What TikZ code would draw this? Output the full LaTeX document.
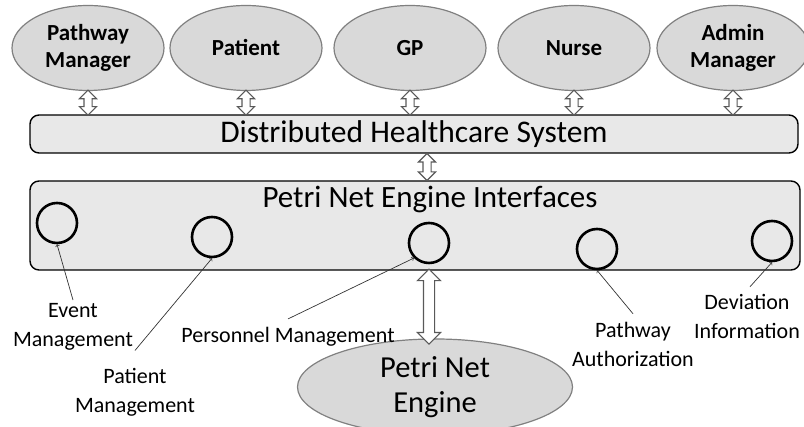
\documentclass[tikz,border=0pt]{standalone}
\usepackage{fontspec}
\setmainfont{Carlito}
\usetikzlibrary{positioning}
\usetikzlibrary{shapes.geometric}
\usetikzlibrary{shapes.arrows}

\tikzset{
  actor/.style={ellipse, draw=gray, fill=gray!30, line width=1.2pt,
    minimum width=152pt, minimum height=85pt, inner sep=0pt, align=center,
    font=\fontsize{23}{27}\selectfont\bfseries},
  layer/.style={draw, line width=1.4pt, rounded corners=9pt, fill=gray!18},
  place/.style={circle, draw, line width=2.6pt, minimum size=40pt, inner sep=0pt},
  link/.style={double arrow, draw=gray!70!black, fill=white, line width=1.1pt,
    rotate=90, inner xsep=0pt, inner ysep=3.5pt, double arrow head extend=4.5pt},
  biglink/.style={link, inner ysep=5pt, double arrow head extend=6pt},
  note/.style={align=center, font=\fontsize{22}{29}\selectfont},
  pointer/.style={->, gray!40!black, line width=0.7pt},
}

\begin{document}
\begin{tikzpicture}[x=1pt, y=1pt]
  \useasboundingbox (0,0) rectangle (804,427);

  % users
  \node[actor] (pm) at (88,379) {Pathway\\Manager};
  \node[actor] (pt) at (246,379) {Patient};
  \node[actor] (gp) at (410,379) {GP};
  \node[actor] (nu) at (574,379) {Nurse};
  \node[actor] (am) at (733,379) {Admin\\Manager};

  % layers
  \node[layer, minimum width=768pt, minimum height=38pt,
    font=\fontsize{31.5}{34}\selectfont] (dhs) at (414,293) {Distributed Healthcare System};
  \node[layer, minimum width=770pt, minimum height=89pt] (pni) at (415,201.5) {};
  \node[font=\fontsize{31}{34}\selectfont] (pnt) at (430,227) {Petri Net Engine Interfaces};

  % interface places
  \node[place] (c1) at (57,204) {};
  \node[place] (c2) at (212,190) {};
  \node[place] (c3) at (429,184) {};
  \node[place] (c4) at (597,178) {};
  \node[place] (c5) at (772,186) {};

  \node[ellipse, draw=gray, fill=gray!30, line width=1.2pt, minimum width=275pt,
    minimum height=92pt, align=center, font=\fontsize{30.5}{35}\selectfont] (eng) at (435,40)
    {Petri Net\\Engine};

  % double arrows
  \foreach \u in {pm,pt,gp,nu,am}
    \path (\u.south) -- (\u.south |- dhs.north) node[midway, link, minimum height=25pt] {};
  \path (427,0 |- dhs.south) -- (427,0 |- pni.north) node[midway, link, minimum height=27pt] {};
  \path (c3 |- pni.south) -- ([yshift=-4pt]eng.north -| c3) node[midway, biglink, minimum height=75pt] {};

  % labels
  \node[note] (ev) at (73,100) {Event\\Management};
  \node[note] (pa) at (135,35) {Patient\\Management};
  \node[note] (pe) at (288,90) {Personnel Management};
  \node[note] (pw) at (633,82.5) {Pathway\\Authorization};
  \node[note] (dv) at (747,110.5) {Deviation\\Information};

  \draw[pointer] (ev.north) -- (c1.south);
  \draw[pointer] ([yshift=14pt]pa.north) -- (c2.south);
  \draw[pointer] ([yshift=5pt]pe.north) -- (c3.south west);
  \draw[pointer] ([yshift=5pt]pw.north) -- (c4.south);
  \draw[pointer] ([shift={(3pt,4pt)}]dv.north) -- (c5.south);
\end{tikzpicture}
\end{document}
